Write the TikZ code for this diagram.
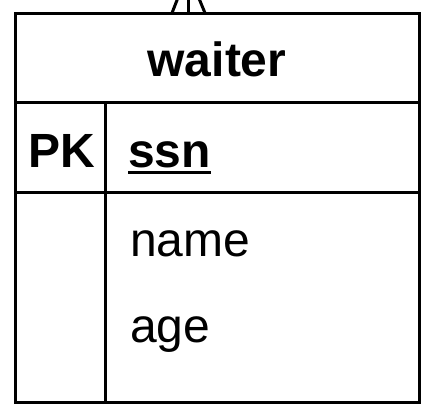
\documentclass[tikz,border=0pt]{standalone}
\usepackage{fontspec}
\setmainfont{Liberation Sans}

\tikzstyle{tableline}=[line width=3pt]
\tikzstyle{field}=[anchor=base west,inner sep=0pt,font=\fontsize{48}{58}\selectfont]
\tikzstyle{title}=[anchor=base,inner sep=0pt,font=\fontsize{48}{58}\selectfont\bfseries]

\begin{document}
\begin{tikzpicture}[x=1pt,y=-1pt]
	\useasboundingbox (0,0) rectangle (423,415);
	\clip (0,0) rectangle (423,415);
	\begin{scope}[tableline]
		% table frame and rows
		\draw (15.5,13) rectangle (419,402);
		\draw (15.5,102) -- (419,102);
		\draw (15.5,192) -- (419,192);
		\draw (105,102) -- (105,402);
	\end{scope}

	\node (T) [title] at (217,76) {waiter};
	\node (PK) [field,font=\fontsize{48}{58}\selectfont\bfseries] at (28,167) {PK};
	\node (ssn) [field,font=\fontsize{48}{58}\selectfont\bfseries] at (128,167) {ssn};
	\node (name) [field] at (130,256) {name};
	\node (age) [field] at (130,342) {age};
	\draw[line width=3pt] ([yshift=-5pt]ssn.base west) -- ([yshift=-5pt]ssn.base east);

	% crow's foot to the entity above
	\coordinate (A) at (188,-28);
	\coordinate (F1) at (172,13);
	\coordinate (F2) at (188,13);
	\coordinate (F3) at (205,13);
	\foreach \f in {F1,F2,F3}{
		\draw[tableline] (A) -- (\f);
	}
\end{tikzpicture}
\end{document}
